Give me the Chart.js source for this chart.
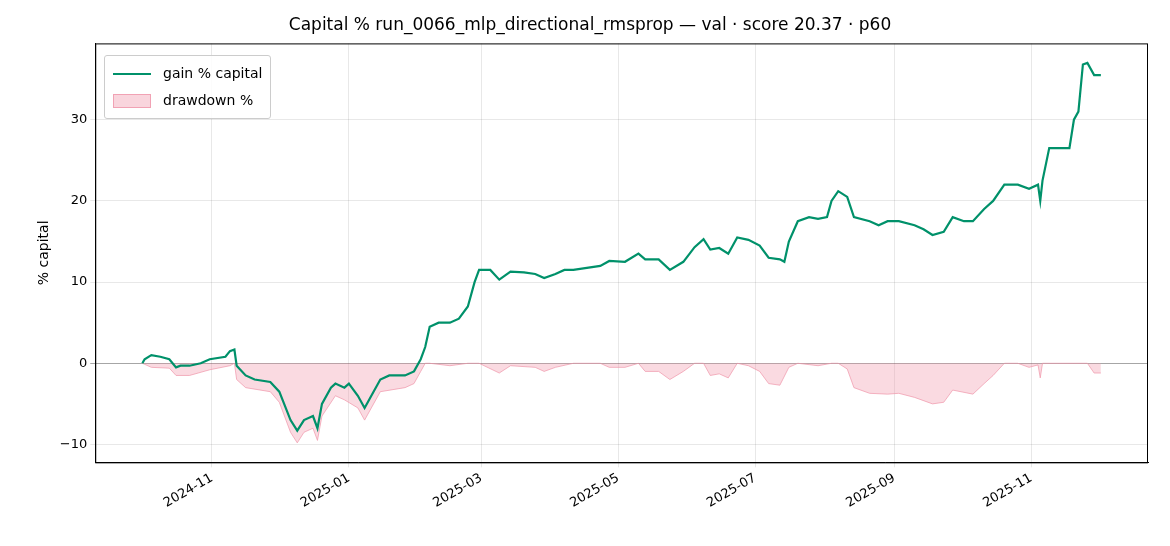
<!DOCTYPE html>
<html><head><meta charset="utf-8">
<script src="https://cdn.jsdelivr.net/npm/chart.js@4/dist/chart.umd.min.js"></script>
<style>
body{margin:0;background:#fff;font-family:"DejaVu Sans",sans-serif}
#wrap{position:relative;width:1170px;height:546px}
#legend{position:absolute;left:104px;top:55px;border:1px solid #ccc;border-radius:3px;background:rgba(255,255,255,0.85);padding:4px 8px;font-size:14px;color:#000;line-height:27px}
.row{display:flex;align-items:center}
.sw{width:38px;margin-right:12px}
</style></head><body>
<div id="wrap"><canvas id="c" width="1170" height="546"></canvas>
<div id="legend">
<div class="row"><span class="sw" style="border-top:2.5px solid #00916a;height:0"></span>gain % capital</div>
<div class="row"><span class="sw" style="height:14px;background:rgba(240,150,170,0.4);border:1px solid rgba(240,150,170,0.8);box-sizing:border-box"></span>drawdown %</div>
</div></div>
<script>
const startDate = "2024-10-01";
const gainDays = [0,1,4,8,12,15,17,21,26,30,37,39,41,42,46,50,57,61,66,69,72,76,78,80,84,86,90,92,96,99,102,106,110,117,121,124,126,128,132,137,141,145,148,150,155,159,164,170,175,179,184,188,192,204,208,215,221,224,230,235,241,246,250,253,257,261,265,270,275,279,284,286,288,292,297,301,305,307,310,314,317,324,328,332,337,344,348,352,357,361,366,370,375,379,384,390,395,399,400,401,404,408,413,415,417,419,421,424,427];
const gainVals = [0,0.5,1,0.8,0.5,-0.5,-0.3,-0.3,0,0.5,0.8,1.5,1.7,-0.3,-1.5,-2,-2.3,-3.5,-7,-8.3,-7,-6.5,-8,-5,-3,-2.5,-3,-2.5,-4,-5.5,-4,-2,-1.5,-1.5,-1,0.5,2,4.5,5,5,5.5,7,10,11.5,11.5,10.3,11.3,11.2,11,10.5,11,11.5,11.5,12,12.6,12.5,13.5,12.8,12.8,11.5,12.5,14.3,15.3,14,14.2,13.5,15.5,15.2,14.5,13,12.8,12.5,15,17.5,18,17.8,18,20,21.2,20.5,18,17.5,17,17.5,17.5,17,16.5,15.8,16.2,18,17.5,17.5,19,20,22,22,21.5,22,20,22.5,26.5,26.5,26.5,30,31,36.8,37,35.5,35.5];
const ddDays = [0,4,12,15,21,30,39,41,42,46,57,61,66,69,72,76,78,80,86,90,96,99,102,106,117,121,124,126,128,137,145,150,159,164,175,179,184,192,204,208,215,221,224,230,235,241,246,250,253,257,261,265,270,275,279,284,288,292,301,307,310,314,317,324,332,337,344,352,357,361,370,375,379,384,390,395,399,400,401,408,415,421,424,427];
const ddVals = [0,-0.5,-0.6,-1.5,-1.5,-0.8,-0.3,0,-2,-3,-3.5,-4.8,-8.5,-9.8,-8.5,-8,-9.5,-6.5,-4,-4.5,-5.5,-7,-5.5,-3.5,-3,-2.5,-1,0,0,-0.3,0,0,-1.2,-0.3,-0.5,-1,-0.5,0,0,-0.5,-0.5,0,-1,-1,-2,-1,0,0,-1.5,-1.3,-1.8,0,-0.3,-1,-2.5,-2.7,-0.5,0,-0.3,0,0,-0.7,-3,-3.7,-3.8,-3.7,-4.2,-5,-4.8,-3.3,-3.8,-2.5,-1.5,0,0,-0.5,-0.2,-1.8,0,0,0,0,-1.2,-1.2];
const yTicks = [-10,0,10,20,30];
const xTickLabels = ["2024-11","2025-01","2025-03","2025-05","2025-07","2025-09","2025-11"];

const DAY = 86400000;
const t0 = Date.parse(startDate+"T00:00:00Z");
const toT = d => t0 + d*DAY;
const monthT = s => Date.parse(s+"-01T00:00:00Z");
const gainPts = gainDays.map((d,i)=>({x:toT(d),y:gainVals[i]}));
const ddPts = ddDays.map((d,i)=>({x:toT(d),y:ddVals[i]}));
const xTickVals = xTickLabels.map(monthT);
const fmt = v => { const dt=new Date(v); return dt.getUTCFullYear()+"-"+String(dt.getUTCMonth()+1).padStart(2,"0"); };

const frame = { id:"frame", afterDraw(ch){ const a=ch.chartArea, g=ch.ctx; g.save(); g.strokeStyle="#000"; g.lineWidth=1; g.strokeRect(a.left+0.5,a.top+0.5,a.right-a.left-1,a.bottom-a.top); g.restore(); } };

Chart.defaults.font.family = "'DejaVu Sans', sans-serif";
Chart.defaults.color = "#000";
new Chart(document.getElementById("c"), {
  type: "line",
  data: { datasets: [
    { label:"gain % capital", data:gainPts, borderColor:"#00916a", borderWidth:2.2, pointRadius:0, tension:0, fill:false, order:0 },
    { label:"drawdown %", data:ddPts, borderColor:"rgba(240,150,170,0.7)", borderWidth:1, backgroundColor:"rgba(240,150,170,0.35)", pointRadius:0, fill:"origin", order:1 }
  ]},
  options: {
    responsive:false, animation:false,
    layout:{padding:{left:32,right:22,top:0,bottom:32}},
    plugins:{ legend:{display:false}, tooltip:{enabled:false},
      title:{display:true,text:"Capital % run_0066_mlp_directional_rmsprop — val · score 20.37 · p60",font:{size:17,weight:"normal"},padding:{top:15,bottom:8}} },
    scales:{
      x:{ type:"linear", min:toT(-21), max:toT(448),
        afterBuildTicks: ax => { ax.ticks = xTickVals.map(v=>({value:v})); },
        ticks:{ callback:v=>fmt(v), maxRotation:30, minRotation:30, font:{size:13} },
        grid:{color:"rgba(0,0,0,0.09)", drawTicks:true, tickLength:5},
        border:{color:"#000"} },
      y:{ min:-12.2, max:39.4,
        afterBuildTicks: ax => { ax.ticks = yTicks.map(v=>({value:v})); },
        ticks:{font:{size:13}, callback:v=>String(v).replace("-","−")},
        title:{display:true,text:"% capital",font:{size:14}},
        grid:{ color: c => c.tick && c.tick.value===0 ? "rgba(0,0,0,0.35)" : "rgba(0,0,0,0.09)", tickLength:5},
        border:{color:"#000"} }
    }
  },
  plugins:[frame]
});
</script></body></html>
